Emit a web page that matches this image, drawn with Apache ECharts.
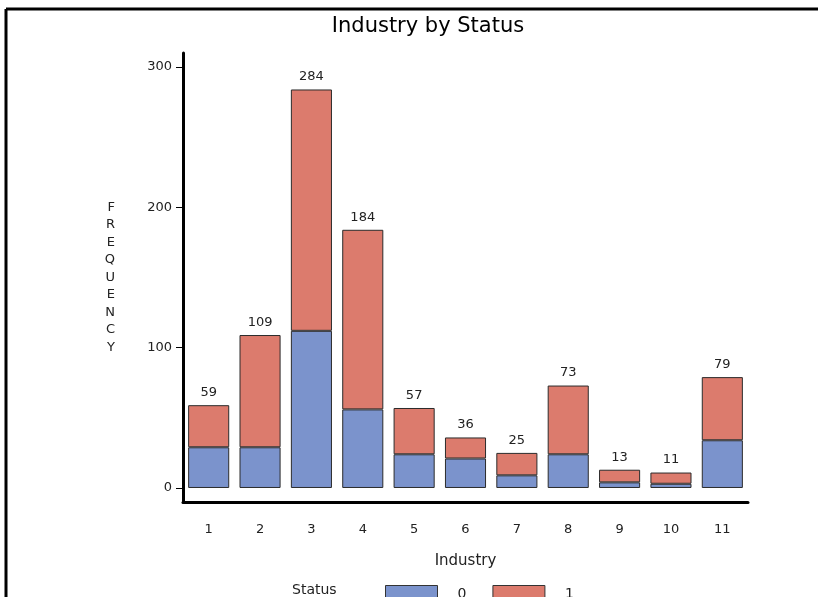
<!DOCTYPE html>
<html><head><meta charset="utf-8">
<script src="https://cdn.jsdelivr.net/npm/echarts@6/dist/echarts.min.js"></script>
<style>html,body{margin:0;padding:0;background:#fff}#c{width:818px;height:597px}</style>
</head><body><div id="c"></div>
<script>
const categories = ['1','2','3','4','5','6','7','8','9','10','11'];
const status0 = [29, 29, 112, 56, 24, 21, 9, 24, 4, 3, 34];
const totals = [59, 109, 284, 184, 57, 36, 25, 73, 13, 11, 79];
const status1 = totals.map((t, i) => t - status0[i]);
const yTicks = [0, 100, 200, 300];

const chart = echarts.init(document.getElementById('c'), null, {renderer: 'canvas'});
const font = 'DejaVu Sans, sans-serif';
chart.setOption({
  animation: false,
  backgroundColor: '#fff',
  title: {
    text: 'Industry by Status', left: 423, top: 11, textAlign: 'center',
    textStyle: {fontFamily: font, fontSize: 21, fontWeight: 'normal', color: '#000'}
  },
  grid: {left: 183, right: 70, top: 53, bottom: 95, containLabel: false},
  legend: {
    left: 380, top: 580, itemWidth: 52, itemHeight: 18, itemGap: 26,
    icon: 'rect',
    itemStyle: {borderColor: '#333', borderWidth: 1},
    textStyle: {fontFamily: font, fontSize: 14, color: '#222', padding: [0, 0, 0, 15]},
    data: ['0', '1']
  },
  xAxis: {
    type: 'category', data: categories,
    name: 'Industry', nameLocation: 'middle', nameGap: 52,
    nameTextStyle: {fontFamily: font, fontSize: 15, color: '#222'},
    axisLine: {onZero: false, lineStyle: {color: '#000', width: 3}},
    axisTick: {show: false},
    axisLabel: {fontFamily: font, fontSize: 13, color: '#222', margin: 21}
  },
  yAxis: {
    type: 'value', min: -10, max: 310,
    name: 'FREQUENCY'.split('').join('\n'), nameLocation: 'middle', nameRotate: 0, nameGap: 68,
    nameTextStyle: {fontFamily: font, fontSize: 13, color: '#222', lineHeight: 17.5},
    axisLine: {show: true, lineStyle: {color: '#000', width: 3}},
    axisTick: {show: true, length: 7, customValues: yTicks, lineStyle: {color: '#000', width: 1}},
    axisLabel: {customValues: yTicks, fontFamily: font, fontSize: 13, color: '#222', margin: 11},
    splitLine: {show: false}
  },
  series: [
    {
      name: '0', type: 'bar', stack: 's', data: status0, barCategoryGap: '20%',
      itemStyle: {color: '#7b93cc', borderColor: '#2b2b2b', borderWidth: 1}
    },
    {
      name: '1', type: 'bar', stack: 's', data: status1, barCategoryGap: '20%',
      itemStyle: {color: '#dc7b6d', borderColor: '#2b2b2b', borderWidth: 1},
      label: {
        show: true, position: 'top', distance: 6,
        formatter: p => String(totals[p.dataIndex]),
        fontFamily: font, fontSize: 13, color: '#222'
      }
    }
  ],
  graphic: [
    {type: 'line', shape: {x1: 6, y1: 9, x2: 818, y2: 9}, style: {stroke: '#000', lineWidth: 3}},
    {type: 'line', shape: {x1: 6, y1: 9, x2: 6, y2: 597}, style: {stroke: '#000', lineWidth: 3}},
    {type: 'text', left: 292, top: 583, style: {text: 'Status', fontFamily: font, fontSize: 14, fill: '#222'}}
  ]
});
</script></body></html>
